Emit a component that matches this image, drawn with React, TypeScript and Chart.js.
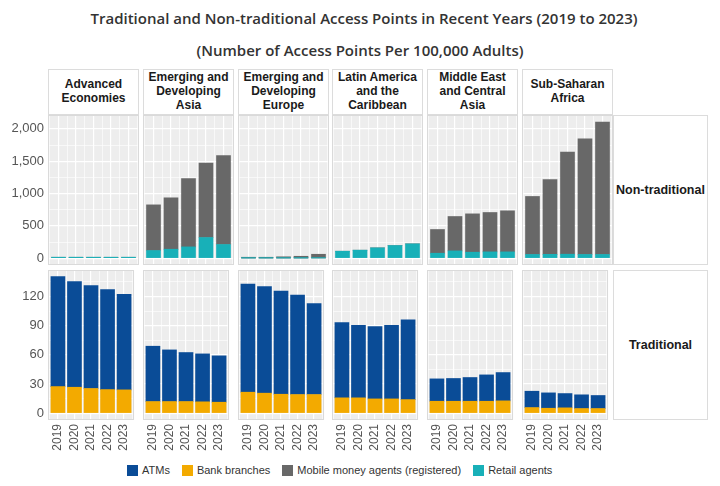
import React, { useEffect, useRef } from 'react';
import { Chart, registerables } from 'chart.js';

Chart.register(...registerables);

// ---------- data ----------
const years = ['2019', '2020', '2021', '2022', '2023'];
const regions = [
  ['Advanced', 'Economies'],
  ['Emerging and', 'Developing', 'Asia'],
  ['Emerging and', 'Developing', 'Europe'],
  ['Latin America', 'and the', 'Caribbean'],
  ['Middle East', 'and Central', 'Asia'],
  ['Sub-Saharan', 'Africa'],
];
const rowLabels = ['Non-traditional', 'Traditional'];
const seriesNames = ['ATMs', 'Bank branches', 'Mobile money agents (registered)', 'Retail agents'];
const seriesColors = ['#0A4C97', '#F3AA00', '#686868', '#18B0B8'];

// Non-traditional (per 100,000 adults)
const retailAgents = [
  [15, 15, 15, 15, 15],
  [119, 139, 175, 320, 212],
  [2, 2, 2, 2, 3],
  [108, 124, 160, 196, 222],
  [77, 113, 93, 98, 98],
  [58, 60, 62, 58, 58],
];
const mobileMoneyAgents = [
  [0, 0, 0, 0, 0],
  [706, 795, 1058, 1150, 1377],
  [13, 13, 20, 28, 58],
  [0, 0, 0, 0, 0],
  [367, 532, 593, 609, 635],
  [897, 1158, 1579, 1789, 2049],
];
// Traditional (per 100,000 adults)
const bankBranches = [
  [27.4, 26.7, 25.4, 24.3, 24.0],
  [12.0, 12.0, 12.0, 11.7, 11.3],
  [21.6, 20.6, 19.5, 19.2, 19.2],
  [15.8, 15.8, 14.7, 14.7, 14.0],
  [12.3, 12.3, 12.3, 12.3, 12.7],
  [5.8, 5.1, 5.5, 4.8, 4.8],
];
const atms = [
  [113.2, 108.7, 105.9, 102.9, 98.4],
  [56.9, 53.1, 50.4, 49.3, 47.7],
  [111.1, 109.7, 106.0, 102.2, 93.6],
  [77.4, 74.7, 74.4, 75.8, 82.0],
  [23.0, 23.4, 24.4, 27.1, 29.1],
  [16.8, 15.8, 14.7, 14.1, 13.4],
];
const nonTradTickLabels = [0, 500, 1000, 1500, 2000];
const tradTickLabels = [0, 30, 60, 90, 120];

// ---------- layout ----------
const FONT = '"Liberation Sans", Arial, sans-serif';
const PANEL_LEFT = [48, 143, 238, 332, 427, 522];
const PANEL_W = 91;
const ROW_TOP = [115, 270];
const PANEL_H = 150;
const M = 12;

const panelPlugin = {
  id: 'panelBg',
  beforeDraw(chart: any) {
    const { ctx, chartArea: a } = chart;
    ctx.save();
    ctx.fillStyle = '#EDEDED';
    ctx.fillRect(a.left, a.top, a.right - a.left, a.bottom - a.top);
    ctx.restore();
  },
  afterDraw(chart: any) {
    const { ctx, chartArea: a } = chart;
    ctx.save();
    ctx.strokeStyle = '#DADADA';
    ctx.lineWidth = 1;
    ctx.strokeRect(a.left + 0.5, a.top + 0.5, a.right - a.left - 1, a.bottom - a.top - 1);
    ctx.restore();
  },
};

function Panel({ row, col }: { row: number; col: number }) {
  const ref = useRef<HTMLCanvasElement>(null);
  const padL = col === 0 ? 0 : M;
  const axisW = col === 0 ? 48 : 0;
  const padB = row === 1 ? 0 : M;
  const axisH = row === 1 ? 40 : 0;
  const left = PANEL_LEFT[col] - padL - axisW;
  const top = ROW_TOP[row] - M;
  const width = PANEL_W + padL + axisW + M;
  const height = PANEL_H + M + padB + axisH;

  useEffect(() => {
    const pts = (arr: number[]) => arr.map((v, i) => ({ x: i + 1, y: v }));
    const datasets =
      row === 0
        ? [
            { label: seriesNames[3], data: pts(retailAgents[col]), backgroundColor: seriesColors[3] },
            { label: seriesNames[2], data: pts(mobileMoneyAgents[col]), backgroundColor: seriesColors[2] },
          ]
        : [
            { label: seriesNames[1], data: pts(bankBranches[col]), backgroundColor: seriesColors[1] },
            { label: seriesNames[0], data: pts(atms[col]), backgroundColor: seriesColors[0] },
          ];
    const majors = row === 0 ? nonTradTickLabels : tradTickLabels;
    const chart = new Chart(ref.current as HTMLCanvasElement, {
      type: 'bar',
      data: { datasets: datasets as any },
      options: {
        animation: false,
        responsive: false,
        maintainAspectRatio: false,
        layout: { padding: { left: padL, right: M, top: M, bottom: padB } },
        datasets: { bar: { barThickness: 14, borderWidth: 0 } } as any,
        plugins: { legend: { display: false }, tooltip: { enabled: false } },
        scales: {
          x: {
            type: 'linear',
            min: 0.4,
            max: 5.6,
            stacked: true,
            offset: false,
            border: { display: false },
            grid: {
              offset: false,
              drawTicks: false,
              color: '#FFFFFF',
              lineWidth: (c: any) => (c.tick && Number.isInteger(c.tick.value) ? 1.2 : 0.6),
            },
            ticks: {
              display: row === 1,
              stepSize: 0.5,
              includeBounds: false,
              autoSkip: false,
              minRotation: 90,
              maxRotation: 90,
              padding: 4,
              color: '#555555',
              font: { family: FONT, size: 12 },
              callback: (v: any) => (Number.isInteger(v) ? years[v - 1] : ''),
            } as any,
            afterFit: (s: any) => {
              s.height = axisH;
            },
          },
          y: {
            type: 'linear',
            stacked: true,
            min: row === 0 ? -105 : -7,
            max: row === 0 ? 2215 : 147.3,
            border: { display: false },
            grid: {
              drawTicks: false,
              color: '#FFFFFF',
              lineWidth: (c: any) => (c.tick && majors.includes(c.tick.value) ? 1.2 : 0.6),
            },
            ticks: {
              display: col === 0,
              stepSize: row === 0 ? 250 : 15,
              includeBounds: false,
              autoSkip: false,
              padding: 4,
              color: '#555555',
              font: { family: FONT, size: 13 },
              callback: (v: any) => (majors.includes(v) ? v.toLocaleString('en-US') : ''),
            } as any,
            afterFit: (s: any) => {
              s.width = axisW;
            },
          },
        },
      } as any,
      plugins: [panelPlugin],
    });
    return () => chart.destroy();
  }, []);

  return (
    <canvas
      ref={ref}
      width={width}
      height={height}
      style={{ position: 'absolute', left, top, width, height }}
    />
  );
}

export default function App() {
  const boxBorder = '1px solid #DCDCDC';
  return (
    <div
      style={{
        position: 'absolute',
        left: 0,
        top: 0,
        width: 720,
        height: 486,
        background: '#FFFFFF',
        overflow: 'hidden',
        fontFamily: FONT,
      }}
    >
      <div
        style={{
          position: 'absolute',
          left: 4,
          top: 7,
          width: 720,
          textAlign: 'center',
          fontFamily: '"Open Sans", sans-serif',
          fontWeight: 600,
          fontSize: 15,
          color: '#333333',
          lineHeight: '22px',
        }}
      >
        Traditional and Non-traditional Access Points in Recent Years (2019 to 2023)
      </div>
      <div
        style={{
          position: 'absolute',
          left: 0,
          top: 39,
          width: 720,
          textAlign: 'center',
          fontFamily: '"Open Sans", sans-serif',
          fontWeight: 600,
          fontSize: 15,
          color: '#333333',
          lineHeight: '22px',
        }}
      >
        (Number of Access Points Per 100,000 Adults)
      </div>

      {regions.map((lines, c) => (
        <div
          key={'strip' + c}
          style={{
            position: 'absolute',
            left: PANEL_LEFT[c],
            top: 69,
            width: PANEL_W,
            height: 46,
            boxSizing: 'border-box',
            border: boxBorder,
            background: '#FFFFFF',
            display: 'flex',
            flexDirection: 'column',
            justifyContent: 'center',
            alignItems: 'center',
            fontWeight: 700,
            fontSize: 12,
            lineHeight: '13.8px',
            color: '#1A1A1A',
            textAlign: 'center',
          }}
        >
          {lines.map((l, i) => (
            <div key={i}>{l}</div>
          ))}
        </div>
      ))}

      {rowLabels.map((lab, r) => (
        <div
          key={'row' + r}
          style={{
            position: 'absolute',
            left: 613,
            top: ROW_TOP[r],
            width: 95,
            height: PANEL_H,
            boxSizing: 'border-box',
            border: boxBorder,
            background: '#FFFFFF',
            display: 'flex',
            justifyContent: 'center',
            alignItems: 'center',
            fontWeight: 700,
            fontSize: 12.5,
            color: '#1A1A1A',
          }}
        >
          {lab}
        </div>
      ))}

      {[0, 1].map((r) =>
        [0, 1, 2, 3, 4, 5].map((c) => <Panel key={r + '-' + c} row={r} col={c} />)
      )}

      <div
        style={{
          position: 'absolute',
          left: 127,
          top: 463,
          height: 14,
          display: 'flex',
          alignItems: 'center',
          fontSize: 11,
          color: '#333333',
          whiteSpace: 'nowrap',
        }}
      >
        {seriesNames.map((n, i) => (
          <div key={n} style={{ display: 'flex', alignItems: 'center', marginRight: 12 }}>
            <span
              style={{
                display: 'inline-block',
                width: 11,
                height: 11,
                background: seriesColors[i],
                marginRight: 4,
              }}
            />
            <span>{n}</span>
          </div>
        ))}
      </div>
    </div>
  );
}
